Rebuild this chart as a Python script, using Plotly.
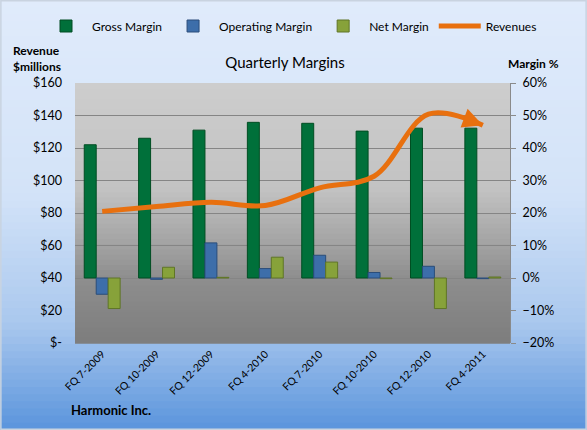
import plotly.graph_objects as go

categories = ["FQ 7-2009", "FQ 10-2009", "FQ 12-2009", "FQ 4-2010",
              "FQ 7-2010", "FQ 10-2010", "FQ 12-2010", "FQ 4-2011"]
gross_margin = [41.0, 43.0, 45.5, 47.9, 47.6, 45.2, 46.1, 46.1]
operating_margin = [-5.0, -0.4, 10.8, 2.9, 7.0, 1.7, 3.6, -0.2]
net_margin = [-9.4, 3.3, 0.2, 6.4, 4.9, -0.2, -9.4, 0.3]
revenues = [81.0, 84.0, 86.6, 84.6, 95.5, 102.6, 140.8, 134.0]

rev_ticks = [0, 20, 40, 60, 80, 100, 120, 140, 160]
rev_ticktext = ["$-", "$20", "$40", "$60", "$80", "$100", "$120", "$140", "$160"]

W, H = 587, 430
ML, MR, MT, MB = 75, 77, 83, 87
PW, PH = W - ML - MR, H - MT - MB

FONT = "Lato"
ORANGE = "#e8700f"

def lerp_color(stops, t):
    for i in range(len(stops) - 1):
        t0, c0 = stops[i]
        t1, c1 = stops[i + 1]
        if t0 <= t <= t1:
            f = (t - t0) / (t1 - t0) if t1 > t0 else 0
            a = [int(c0[k:k+2], 16) for k in (1, 3, 5)]
            b = [int(c1[k:k+2], 16) for k in (1, 3, 5)]
            c = [round(a[j] + (b[j] - a[j]) * f) for j in range(3)]
            return "rgb(%d,%d,%d)" % tuple(c)
    return stops[-1][1]

shapes = []
page_stops = [(0.0, "#e0ebfb"), (0.45, "#d3e3f8"), (0.75, "#aac8ee"), (1.0, "#5a94dc")]
N = 60
for i in range(N):
    t0, t1 = i / N, (i + 1) / N
    y_top_px, y_bot_px = t0 * H, t1 * H + 0.8
    shapes.append(dict(type="rect", xref="paper", yref="paper", layer="below",
                       x0=-ML / PW, x1=1 + MR / PW,
                       y0=(H - MB - y_bot_px) / PH, y1=(H - MB - y_top_px) / PH,
                       fillcolor=lerp_color(page_stops, (t0 + t1) / 2), line_width=0))
plot_stops = [(0.0, "#cdcdcd"), (0.4, "#c3c3c3"), (0.62, "#a3a3a3"), (0.75, "#8e8e8e"), (1.0, "#7d7d7d")]
N2 = 50
for i in range(N2):
    t0, t1 = i / N2, (i + 1) / N2
    shapes.append(dict(type="rect", xref="paper", yref="paper", layer="below",
                       x0=0, x1=1, y0=1 - t1 - 0.003, y1=1 - t0,
                       fillcolor=lerp_color(plot_stops, (t0 + t1) / 2), line_width=0))
shapes.append(dict(type="rect", xref="paper", yref="paper", layer="above",
                   x0=-ML / PW + 0.002, x1=1 + MR / PW - 0.002,
                   y0=-MB / PH + 0.003, y1=1 + MT / PH - 0.003,
                   line=dict(color="#c9d3e0", width=1.5), fillcolor="rgba(0,0,0,0)"))

fig = go.Figure()
fig.add_trace(go.Bar(name="Gross Margin", x=categories, y=gross_margin,
                     marker=dict(color="#00703a", line=dict(color="#004d22", width=1)),
                     yaxis="y"))
fig.add_trace(go.Bar(name="Operating Margin", x=categories, y=operating_margin,
                     marker=dict(color="#3d6eaa", line=dict(color="#2a4d7a", width=1)),
                     yaxis="y"))
fig.add_trace(go.Bar(name="Net Margin", x=categories, y=net_margin,
                     marker=dict(color="#87a23a", line=dict(color="#5f7526", width=1)),
                     yaxis="y"))
fig.add_trace(go.Scatter(name="Revenues", x=categories, y=revenues, yaxis="y2",
                         mode="lines",
                         line=dict(color=ORANGE, width=5, shape="spline", smoothing=1.0)))

fig.update_layout(
    width=W, height=H,
    margin=dict(l=ML, r=MR, t=MT, b=MB),
    paper_bgcolor="#dfeafa", plot_bgcolor="rgba(0,0,0,0)",
    font=dict(family=FONT, size=12, color="#000000"),
    barmode="group", bargap=0.34, bargroupgap=0,
    shapes=shapes,
    showlegend=True,
    legend=dict(orientation="h", xref="paper", yref="paper",
                x=(40 - ML) / PW, xanchor="left", y=1 + (MT - 26) / PH, yanchor="middle",
                itemwidth=42,
                bgcolor="rgba(0,0,0,0)", font=dict(size=12, family=FONT)),
    title=dict(text="Quarterly Margins", x=(285 - ML) / PW, xref="paper", xanchor="center",
               y=1 - 63 / H, yref="container", yanchor="middle",
               font=dict(size=15, family=FONT, color="#000000")),
    xaxis=dict(type="category", tickangle=-45, tickfont=dict(size=10.5, family=FONT),
               showgrid=False, showline=False, ticks="", zeroline=False,
               ticklabelstandoff=2),
    yaxis=dict(range=[-20, 60], dtick=10, side="right", ticksuffix="%",
               showgrid=True, gridcolor="#858585", gridwidth=1, zeroline=False,
               showline=True, linecolor="#8a8a8a", ticks="outside", ticklen=5, tickcolor="#8a8a8a",
               ticklabelstandoff=4, tickfont=dict(size=12.5, family=FONT)),
    yaxis2=dict(range=[0, 160], tickvals=rev_ticks, ticktext=rev_ticktext, overlaying="y",
                side="left", showgrid=False, zeroline=False, showline=False, ticks="",
                ticklabelstandoff=12, tickfont=dict(size=12.5, family=FONT)),
    annotations=[
        dict(text="<b>Revenue<br>$millions</b>", xref="paper", yref="paper",
             x=(37 - ML) / PW, y=1 + (MT - 59) / PH, xanchor="center", yanchor="middle",
             showarrow=False, align="left", font=dict(size=12, family=FONT)),
        dict(text="<b>Margin %</b>", xref="paper", yref="paper",
             x=(533 - ML) / PW, y=1 + (MT - 63) / PH, xanchor="center", yanchor="middle",
             showarrow=False, font=dict(size=12, family=FONT)),
        dict(text="<b>Harmonic Inc.</b>", xref="paper", yref="paper",
             x=(69 - ML) / PW, y=-(410 - MT - PH) / PH, xanchor="left", yanchor="middle",
             showarrow=False, font=dict(size=13, family=FONT)),
        dict(text="", x=categories[-1], y=revenues[-1], xref="x", yref="y2",
             showarrow=True, ax=-16, ay=-6, arrowhead=2, arrowsize=0.8, arrowwidth=5,
             arrowcolor=ORANGE, standoff=0),
    ],
)

fig.write_html("out.html")
